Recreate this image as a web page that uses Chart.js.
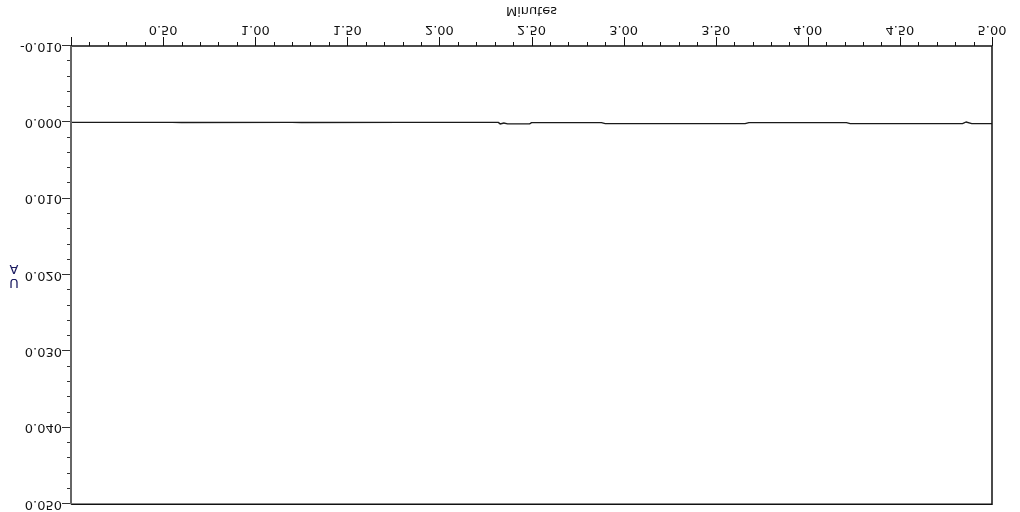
<!DOCTYPE html>
<html>
<head>
<meta charset="utf-8">
<script src="https://cdn.jsdelivr.net/npm/chart.js@4.4.0/dist/chart.umd.min.js"></script>
<style>
    html, body { margin: 0; padding: 0; background: #fff; }
    #wrap { width: 1020px; height: 512px; transform: scaleY(-1); }
</style>
</head>
<body>
<div id="wrap"><canvas id="chrom" width="1020" height="512"></canvas></div>
<script>
    // trace (minutes / AU)
    const minutes = [0.00, 0.55, 0.60, 1.20, 1.25, 1.80, 2.32, 2.33, 2.35, 2.37, 2.49, 2.50, 2.88, 2.90, 3.66, 3.68, 4.21, 4.23, 4.84, 4.86, 4.89, 5.00];
    const absorbance = [0.00000, 0.00000, 0.00002, 0.00000, 0.00002, 0.00000, 0.00000, 0.00020, 0.00008, 0.00020, 0.00020, 0.00003, 0.00003, 0.00017, 0.00017, 0.00003, 0.00003, 0.00017, 0.00017, -0.00005, 0.00017, 0.00017];

    const xMin = 0, xMax = 5, xMinorStep = 0.1;
    const yMin = -0.010, yMax = 0.050, yMinorStep = 0.002;
    const yTitle = ['U', 'A'];
    const xTitle = 'Minutes';

    const FONT = '"DejaVu Sans", sans-serif';

    function isMajorX(v) { return Math.round(v * 10) % 5 === 0; }
    function isMajorY(v) { return Math.round(v * 1000) % 10 === 0; }

    // tick marks, frame and the AU label
    const axisPlugin = {
        id: 'axisPlugin',
        afterDraw(chart) {
            const ctx = chart.ctx;
            const area = chart.chartArea;
            const xs = chart.scales.x, ys = chart.scales.y;
            ctx.save();

            ctx.strokeStyle = '#111';
            ctx.lineWidth = 1;
            xs.ticks.forEach(t => {
                const px = Math.round(xs.getPixelForValue(t.value)) + 0.5;
                const len = isMajorX(t.value) ? 9 : 4;
                ctx.beginPath();
                ctx.moveTo(px, area.bottom);
                ctx.lineTo(px, area.bottom + len);
                ctx.stroke();
            });

            ctx.strokeStyle = '#333';
            ys.ticks.forEach(t => {
                const py = Math.round(ys.getPixelForValue(t.value)) + 0.5;
                const len = isMajorY(t.value) ? 9 : 4;
                ctx.beginPath();
                ctx.moveTo(area.left - len, py);
                ctx.lineTo(area.left, py);
                ctx.stroke();
            });

            // frame
            ctx.lineWidth = 1.5;
            ctx.strokeStyle = '#111';
            ctx.beginPath();
            ctx.moveTo(area.left, area.bottom);
            ctx.lineTo(area.right, area.bottom);
            ctx.lineTo(area.right, area.top);
            ctx.lineTo(area.left, area.top);
            ctx.stroke();
            ctx.lineWidth = 2;
            ctx.strokeStyle = '#666';
            ctx.beginPath();
            ctx.moveTo(area.left, area.top);
            ctx.lineTo(area.left, area.bottom);
            ctx.stroke();

            // stacked axis title
            ctx.fillStyle = '#1a1a60';
            ctx.font = '13px ' + FONT;
            ctx.textAlign = 'center';
            ctx.textBaseline = 'middle';
            ctx.fillText(yTitle[0], 14, 230);
            ctx.fillText(yTitle[1], 14, 244);
            ctx.restore();
        }
    };

    const chromCtx = document.getElementById('chrom').getContext('2d');
    const chromChart = new Chart(chromCtx, {
        type: 'line',
        data: {
            datasets: [{
                data: minutes.map((m, i) => ({ x: m, y: absorbance[i] })),
                borderColor: '#1a1a1a',
                borderWidth: 1.4,
                pointRadius: 0,
                tension: 0,
                fill: false
            }]
        },
        options: {
            responsive: false,
            animation: false,
            layout: { padding: { top: 7, right: 28, left: 0, bottom: 0 } },
            plugins: {
                legend: { display: false },
                tooltip: { enabled: false }
            },
            scales: {
                x: {
                    type: 'linear',
                    min: xMin,
                    max: xMax,
                    afterBuildTicks: scale => {
                        const n = Math.round((xMax - xMin) / xMinorStep);
                        scale.ticks = [];
                        for (let i = 0; i <= n; i++) scale.ticks.push({ value: xMin + i * xMinorStep });
                    },
                    afterFit: scale => { scale.height = 46; },
                    grid: { drawOnChartArea: false, drawTicks: true, tickLength: 9, tickColor: 'rgba(0,0,0,0)' },
                    border: { display: false },
                    ticks: {
                        autoSkip: false,
                        maxRotation: 0,
                        padding: 0,
                        color: '#111',
                        font: { family: FONT, size: 13 },
                        callback: v => (isMajorX(v) && v > 0.01) ? v.toFixed(2) : ''
                    },
                    title: {
                        display: true,
                        text: xTitle,
                        color: '#111',
                        font: { family: FONT, size: 13 },
                        padding: { top: 0, bottom: 3 }
                    }
                },
                y: {
                    type: 'linear',
                    min: yMin,
                    max: yMax,
                    afterBuildTicks: scale => {
                        const n = Math.round((yMax - yMin) / yMinorStep);
                        scale.ticks = [];
                        for (let i = 0; i <= n; i++) scale.ticks.push({ value: yMin + i * yMinorStep });
                    },
                    afterFit: scale => { scale.width = 71; },
                    grid: { drawOnChartArea: false, drawTicks: true, tickLength: 9, tickColor: 'rgba(0,0,0,0)' },
                    border: { display: false },
                    ticks: {
                        autoSkip: false,
                        padding: 0,
                        color: '#111',
                        font: { family: FONT, size: 13 },
                        callback: v => isMajorY(v) ? (Math.round(v * 1000) / 1000).toFixed(3) : ''
                    }
                }
            }
        },
        plugins: [axisPlugin]
    });
</script>
</body>
</html>
